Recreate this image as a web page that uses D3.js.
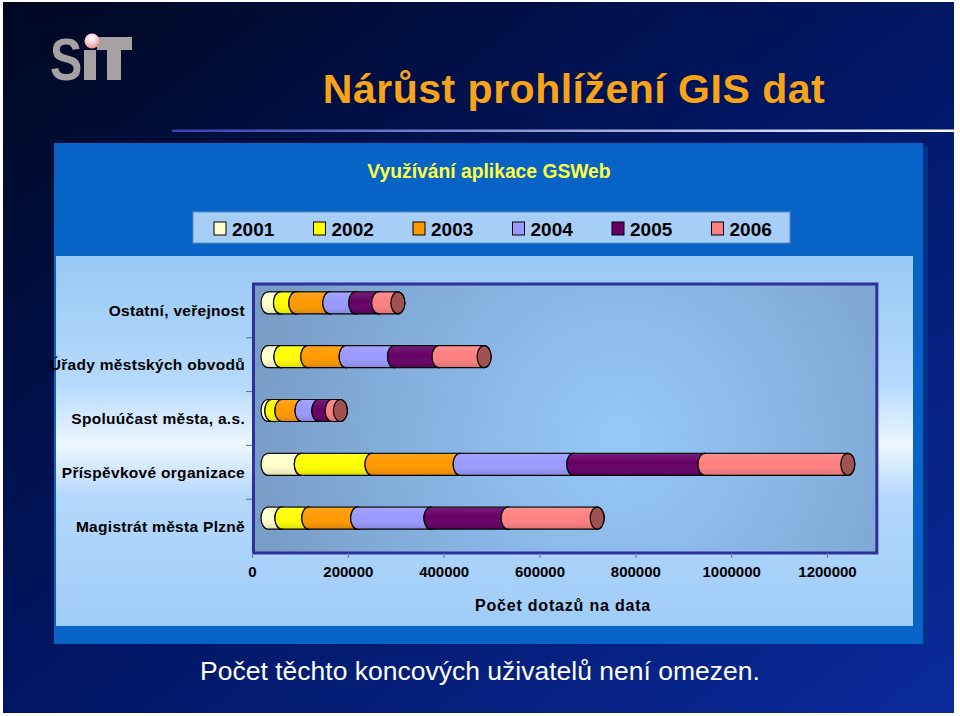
<!DOCTYPE html>
<html>
<head>
<meta charset="utf-8">
<script src="https://cdn.jsdelivr.net/npm/d3@7"></script>
<style>
  html, body { margin: 0; padding: 0; background: #ffffff; }
  svg { display: block; }
  text { font-family: "Liberation Sans", Arial, sans-serif; }
</style>
</head>
<body>
<svg id="chart" width="960" height="716"></svg>
<script>
// ---------------- DATA ----------------
const categories = [
  "Magistrát města Plzně",
  "Příspěvkové organizace",
  "Spoluúčast města, a.s.",
  "Úřady městských obvodů",
  "Ostatní, veřejnost"
];
const years = ["2001", "2002", "2003", "2004", "2005", "2006"];
const v2001 = [29000, 69500, 8000, 27000, 26000];
const v2002 = [56000, 147500, 21000, 56000, 32000];
const v2003 = [102000, 184000, 42000, 80000, 71000];
const v2004 = [153000, 237000, 35000, 101000, 54000];
const v2005 = [161000, 274000, 28000, 93000, 48000];
const v2006 = [186000, 298000, 17000, 94000, 40000];
const seriesValues = [v2001, v2002, v2003, v2004, v2005, v2006];
const seriesColors = ["#ffffcc", "#ffff00", "#ff9900", "#9999ff", "#660066", "#ff8080"];
const xTicks = [0, 200000, 400000, 600000, 800000, 1000000, 1200000];
const titleText = "Nárůst prohlížení GIS dat";
const chartTitle = "Využívání aplikace GSWeb";
const xAxisTitle = "Počet dotazů na data";
const footerText = "Počet těchto koncových uživatelů není omezen.";

// ---------------- DRAW ----------------
const svg = d3.select("#chart");
const defs = svg.append("defs");

// slide background
const bg = defs.append("linearGradient").attr("id", "slideBg")
  .attr("x1", 0).attr("y1", 0).attr("x2", 1).attr("y2", 1);
bg.append("stop").attr("offset", 0).attr("stop-color", "#000820");
bg.append("stop").attr("offset", 0.45).attr("stop-color", "#00155e");
bg.append("stop").attr("offset", 1).attr("stop-color", "#0a2a9c");
svg.append("rect").attr("x", 3).attr("y", 2).attr("width", 951).attr("height", 711)
  .attr("fill", "url(#slideBg)");

// logo SIT
const logo = svg.append("g");
logo.append("text").attr("x", 0).attr("y", 0)
  .attr("transform", "translate(50,80) scale(0.82,1)")
  .attr("font-family", "DejaVu Sans").attr("font-weight", "bold")
  .attr("font-size", 59).attr("fill", "#a8a1a1").text("S");
logo.append("rect").attr("x", 84).attr("y", 50).attr("width", 12).attr("height", 30).attr("fill", "#a8a1a1");
logo.append("rect").attr("x", 97).attr("y", 37).attr("width", 35).attr("height", 13).attr("fill", "#a8a1a1");
logo.append("rect").attr("x", 107).attr("y", 37).attr("width", 14).attr("height", 43).attr("fill", "#a8a1a1");
const dotG = defs.append("radialGradient").attr("id", "dotG").attr("cx", 0.45).attr("cy", 0.3).attr("r", 0.7);
dotG.append("stop").attr("offset", 0).attr("stop-color", "#ffffff");
dotG.append("stop").attr("offset", 0.5).attr("stop-color", "#ffd0d0");
dotG.append("stop").attr("offset", 1).attr("stop-color", "#e89090");
logo.append("circle").attr("cx", 92).attr("cy", 41).attr("r", 7.5).attr("fill", "url(#dotG)");

// title
svg.append("text").attr("x", 574).attr("y", 103).attr("text-anchor", "middle")
  .attr("font-size", 41).attr("font-weight", "bold").attr("letter-spacing", 0.5)
  .attr("fill", "#f7a418").text(titleText);

// line under title
const lineG = defs.append("linearGradient").attr("id", "lineG");
lineG.append("stop").attr("offset", 0).attr("stop-color", "#3040b0");
lineG.append("stop").attr("offset", 1).attr("stop-color", "#ffffff");
svg.append("rect").attr("x", 172).attr("y", 129.5).attr("width", 782).attr("height", 2.5)
  .attr("fill", "url(#lineG)");

// chart outer blue box
svg.append("rect").attr("x", 923).attr("y", 146).attr("width", 5).attr("height", 500).attr("fill", "#00308a");
svg.append("rect").attr("x", 54).attr("y", 143).attr("width", 869).attr("height", 501).attr("fill", "#0763c6");

// inner light area
const lightG = defs.append("linearGradient").attr("id", "lightG").attr("x1", 0).attr("y1", 0).attr("x2", 0).attr("y2", 1);
lightG.append("stop").attr("offset", 0).attr("stop-color", "#98c8f4");
lightG.append("stop").attr("offset", 0.35).attr("stop-color", "#b6dafc");
lightG.append("stop").attr("offset", 0.51).attr("stop-color", "#eef7ff");
lightG.append("stop").attr("offset", 0.65).attr("stop-color", "#b4d8fc");
lightG.append("stop").attr("offset", 1).attr("stop-color", "#9fcdf8");
svg.append("rect").attr("x", 56).attr("y", 256).attr("width", 857).attr("height", 370).attr("fill", "url(#lightG)");

// chart title
svg.append("text").attr("x", 489).attr("y", 178).attr("text-anchor", "middle")
  .attr("font-size", 19.3).attr("font-weight", "bold").attr("fill", "#ffff40").text(chartTitle);

// legend
svg.append("rect").attr("x", 193).attr("y", 212).attr("width", 597).attr("height", 31)
  .attr("fill", "#a6cef6").attr("stroke", "#5a8ac8").attr("stroke-width", 1);
const legend = svg.append("g").selectAll("g").data(years).join("g")
  .attr("transform", (d, i) => `translate(${214 + i * 99.5},0)`);
legend.append("rect").attr("x", 0).attr("y", 222).attr("width", 12).attr("height", 13)
  .attr("fill", (d, i) => seriesColors[i]).attr("stroke", "#000").attr("stroke-width", 1);
legend.append("text").attr("x", 18).attr("y", 236).attr("font-size", 19).attr("font-weight", "bold")
  .attr("fill", "#000").text(d => d);

// scales
const x = d3.scaleLinear().domain([0, 1200000]).range([252, 827]);
const y = d3.scaleBand().domain(categories.slice().reverse()).range([284, 553]);

// plot area
const plotG = defs.append("radialGradient").attr("id", "plotG").attr("gradientUnits", "userSpaceOnUse")
  .attr("cx", 620).attr("cy", 440).attr("r", 360);
plotG.append("stop").attr("offset", 0).attr("stop-color", "#96c8f8");
plotG.append("stop").attr("offset", 0.55).attr("stop-color", "#86b2e0");
plotG.append("stop").attr("offset", 1).attr("stop-color", "#789ec8");
svg.append("rect").attr("x", x(0) + 1.5).attr("y", 284).attr("width", x(1304000) - x(0) - 1.5).attr("height", 269)
  .attr("fill", "url(#plotG)").attr("stroke", "#2e2e9c").attr("stroke-width", 3);

// category boundary ticks
const bounds = categories.slice(1).map((c, i) => y.range()[0] + (i + 1) * y.step());
svg.append("g").selectAll("line").data(bounds).join("line")
  .attr("x1", 246).attr("x2", 252).attr("y1", d => d).attr("y2", d => d)
  .attr("stroke", "#5a6a90").attr("stroke-width", 1);

// category labels via axis
const yAxis = svg.append("g").attr("transform", "translate(253,0)")
  .call(d3.axisLeft(y).tickSize(0).tickPadding(8));
yAxis.select(".domain").remove();
yAxis.selectAll("text").attr("font-family", "Liberation Sans, Arial, sans-serif")
  .attr("font-size", 15.5).attr("font-weight", "bold").attr("letter-spacing", 0.3)
  .attr("fill", "#000").attr("dy", "0.36em");

// x axis
const xAxis = svg.append("g").attr("transform", "translate(0,553)")
  .call(d3.axisBottom(x).tickValues(xTicks).tickFormat(d3.format("d")).tickSize(5).tickPadding(8));
xAxis.select(".domain").remove();
xAxis.selectAll("line").attr("stroke", "#6a7aa0");
xAxis.selectAll("text").attr("font-family", "Liberation Sans, Arial, sans-serif")
  .attr("font-size", 15).attr("font-weight", "bold").attr("fill", "#000");

svg.append("text").attr("x", 563).attr("y", 611).attr("text-anchor", "middle")
  .attr("font-size", 16).attr("font-weight", "bold").attr("letter-spacing", 0.8)
  .attr("fill", "#000").text(xAxisTitle);

// shading gradient for cylinders
const shade = defs.append("linearGradient").attr("id", "shade").attr("x1", 0).attr("y1", 0).attr("x2", 0).attr("y2", 1);
shade.append("stop").attr("offset", 0).attr("stop-color", "#fff").attr("stop-opacity", 0.12);
shade.append("stop").attr("offset", 0.45).attr("stop-color", "#fff").attr("stop-opacity", 0);
shade.append("stop").attr("offset", 1).attr("stop-color", "#000").attr("stop-opacity", 0.14);

// stacked cylinder bars
const depthDx = 16, depthDy = -8, barH = 22, rx = 7;
const stackData = categories.map((c, ci) => {
  let cum = 0;
  return seriesValues.map((vals, si) => {
    const s = { cat: c, si, v0: cum, v1: cum + vals[ci] };
    cum += vals[ci];
    return s;
  });
});
function segPath(a, b, t, btm) {
  const ry = (btm - t) / 2;
  return `M${a},${t}L${b},${t}A${rx},${ry} 0 0 1 ${b},${btm}L${a},${btm}A${rx},${ry} 0 0 1 ${a},${t}Z`;
}
const barsG = svg.append("g");
stackData.forEach(segs => {
  const g = barsG.append("g");
  segs.forEach(s => {
    const cy = y(s.cat) + y.bandwidth() / 2 + depthDy;
    const t = cy - barH / 2, btm = cy + barH / 2;
    const a = x(s.v0) + depthDx, b = x(s.v1) + depthDx;
    const col = seriesColors[s.si];
    g.append("path").attr("d", segPath(a, b, t, btm)).attr("fill", col)
      .attr("stroke", "#000").attr("stroke-width", 1.2).attr("stroke-linejoin", "round");
    g.append("path").attr("d", segPath(a, b, t, btm)).attr("fill", "url(#shade)");
    g.append("ellipse").attr("cx", b).attr("cy", cy).attr("rx", rx).attr("ry", barH / 2)
      .attr("fill", d3.color(col).darker(1.3)).attr("stroke", "#000").attr("stroke-width", 1.2);
  });
});

// footer
svg.append("text").attr("x", 480).attr("y", 680).attr("text-anchor", "middle")
  .attr("font-size", 26.5).attr("fill", "#ffffff").text(footerText);
</script>
</body>
</html>
